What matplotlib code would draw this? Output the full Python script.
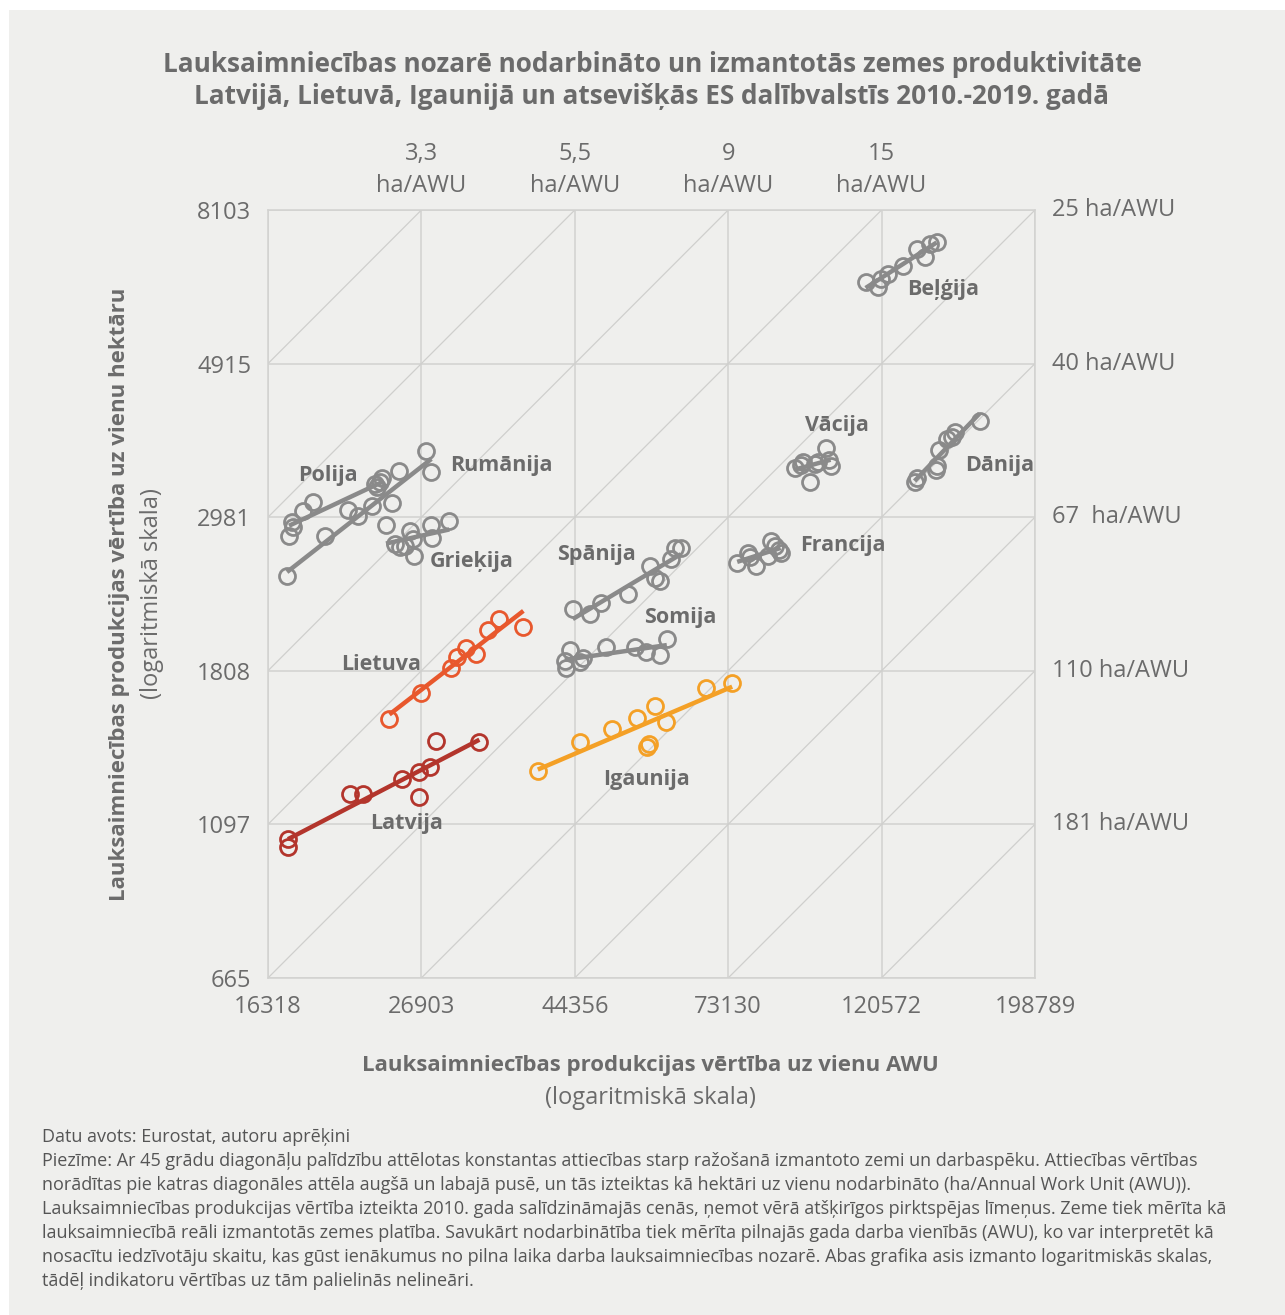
import numpy as np
import matplotlib
matplotlib.use("Agg")
import matplotlib.pyplot as plt
from matplotlib.patches import Rectangle

plt.rcParams['font.family'] = ['Open Sans', 'DejaVu Sans']

# --- asis un diagonāļu uzraksti ---
x_ticks = [16318, 26903, 44356, 73130, 120572, 198789]
y_ticks = [665, 1097, 1808, 2981, 4915, 8103]
top_labels = ["3,3", "5,5", "9", "15"]
right_labels = ["25 ha/AWU", "40 ha/AWU", "67  ha/AWU", "110 ha/AWU", "181 ha/AWU"]

# --- dati (produkcija uz AWU, produkcija uz ha), 2010-2019 ---
lv_x = [17416, 17416, 21318, 22240, 25255, 26728, 26728, 27705, 28251, 32502]
lv_y = [1045, 1018, 1210, 1210, 1270, 1299, 1198, 1321, 1437, 1433]

lt_x = [24240, 26903, 29666, 30253, 31154, 32187, 33470, 34689, 37511]
lt_y = [1546, 1683, 1826, 1892, 1949, 1911, 2066, 2141, 2086]

ee_x = [39318, 45085, 50043, 54293, 57570, 59672, 56453, 56084, 68069, 74090]
ee_y = [1304, 1433, 1495, 1549, 1611, 1529, 1423, 1410, 1711, 1739]

fi_x = [42934, 43639, 43078, 45085, 45523, 49072, 53937, 55906, 58519, 59873]
fi_y = [1868, 1936, 1826, 1862, 1886, 1955, 1955, 1923, 1905, 2007]

es_x = [44068, 46578, 48277, 52722, 56638, 57570, 58519, 60644, 61448, 62666]
es_y = [2212, 2177, 2256, 2323, 2545, 2447, 2423, 2603, 2698, 2698]

gr_x = [23971, 24686, 25537, 25122, 25955, 26211, 26298, 27794, 27885, 29472]
gr_y = [2904, 2730, 2713, 2704, 2848, 2775, 2626, 2904, 2784, 2942]

pl_x = [17474, 17646, 17704, 18289, 18896, 21179, 23129, 23279, 23661, 23511]
pl_y = [2802, 2933, 2886, 3040, 3130, 3049, 3319, 3287, 3385, 3341]

ro_x = [17361, 19650, 21879, 22902, 24446, 25006, 27345, 27794]
ro_y = [2460, 2802, 2991, 3090, 3120, 3463, 3696, 3451]

fr_x = [75309, 78059, 78565, 80113, 83317, 84130, 85233, 86353, 86740]
fr_y = [2570, 2655, 2621, 2545, 2629, 2760, 2716, 2681, 2655]

de_x = [90981, 92773, 93380, 95537, 97102, 98053, 100461, 101450, 102101]
de_y = [3496, 3531, 3566, 3341, 3543, 3566, 3732, 3589, 3519]

dk_x = [134257, 135137, 143770, 144254, 145193, 149026, 151475, 152958, 165941]
dk_y = [3341, 3385, 3474, 3519, 3708, 3843, 3868, 3931, 4074]

be_x = [114447, 119010, 120180, 122950, 129109, 135137, 138706, 140997, 144254]
be_y = [6410, 6306, 6473, 6579, 6752, 7137, 6953, 7255, 7302]

GREY = "#8a8a8a"
TXT = "#6b6b6b"
BG = "#efefed"
GRID = "#d2d2d0"

series = [
    ("Polija", pl_x, pl_y, GREY, (0.078, 0.654, "center")),
    ("Rumānija", ro_x, ro_y, GREY, (0.237, 0.667, "left")),
    ("Grieķija", gr_x, gr_y, GREY, (0.211, 0.542, "left")),
    ("Spānija", es_x, es_y, GREY, (0.428, 0.552, "center")),
    ("Somija", fi_x, fi_y, GREY, (0.538, 0.469, "center")),
    ("Francija", fr_x, fr_y, GREY, (0.694, 0.5625, "left")),
    ("Vācija", de_x, de_y, GREY, (0.742, 0.719, "center")),
    ("Dānija", dk_x, dk_y, GREY, (0.909, 0.667, "left")),
    ("Beļģija", be_x, be_y, GREY, (0.833, 0.896, "left")),
    ("Lietuva", lt_x, lt_y, "#e8582d", (0.147, 0.408, "center")),
    ("Latvija", lv_x, lv_y, "#b3352c", (0.181, 0.201, "center")),
    ("Igaunija", ee_x, ee_y, "#f4a026", (0.494, 0.259, "center")),
]

fig = plt.figure(figsize=(12.85, 13.15), dpi=100)
fig.patch.set_facecolor("white")
fig.add_artist(Rectangle((9 / 1285, 0), 1, 1 - 10 / 1315, transform=fig.transFigure,
                         facecolor=BG, edgecolor="none", zorder=-10))

ax = fig.add_axes([268 / 1285, 1 - 978 / 1315, 767 / 1285, 768 / 1315])
ax.set_facecolor(BG)
ax.set_xscale("log")
ax.set_yscale("log")
ax.set_xlim(x_ticks[0], x_ticks[-1])
ax.set_ylim(y_ticks[0], y_ticks[-1])

# režģis
for xv in x_ticks:
    ax.axvline(xv, color=GRID, lw=1.1, zorder=0)
for yv in y_ticks:
    ax.axhline(yv, color=GRID, lw=1.1, zorder=0)

# 45 grādu diagonāles (konstanta ha/AWU attiecība)
ratios = [xv / y_ticks[-1] for xv in x_ticks[1:]] + [x_ticks[-1] / yv for yv in y_ticks[-2:0:-1]]
xx = np.array([x_ticks[0], x_ticks[-1]], dtype=float)
for r in ratios:
    ax.plot(xx, xx / r, color="#cfcfcd", lw=0.9, zorder=0)

for sp in ax.spines.values():
    sp.set_color(GRID)
    sp.set_linewidth(1.1)

# punkti un trenda līnijas
for name, xs, ys, col, (tx, ty, ha) in series:
    xs = np.array(xs, dtype=float)
    ys = np.array(ys, dtype=float)
    ax.plot(xs, ys, "o", ms=11.5, mfc="none", mec=col, mew=2.0, zorder=3)
    k, b = np.polyfit(np.log(xs), np.log(ys), 1)
    xl = np.array([xs.min(), xs.max()])
    ax.plot(xl, np.exp(b) * xl ** k, color=col, lw=3.2, zorder=4, solid_capstyle="butt")
    ax.text(tx, ty, name, transform=ax.transAxes, ha=ha, va="center",
            fontsize=15.5, fontweight="bold", color=TXT, zorder=5)

ax.set_xticks(x_ticks)
ax.set_xticklabels([str(v) for v in x_ticks])
ax.set_yticks(y_ticks)
ax.set_yticklabels([str(v) for v in y_ticks])
ax.minorticks_off()
ax.tick_params(length=0, labelsize=17, labelcolor=TXT, pad=12)

# diagonāļu uzraksti augšā un pa labi
for xv, lab in zip(x_ticks[1:5], top_labels):
    ax.text(xv, 1.073, lab, transform=ax.get_xaxis_transform(), ha="center", va="center",
            fontsize=17, color=TXT)
    ax.text(xv, 1.031, "ha/AWU", transform=ax.get_xaxis_transform(), ha="center", va="center",
            fontsize=17, color=TXT)
for yv, lab in zip(y_ticks[::-1][:5], right_labels):
    ax.text(1.022, yv, lab, transform=ax.get_yaxis_transform(), ha="left", va="center",
            fontsize=17, color=TXT)

# virsraksts
fig.text(652 / 1285, 1 - 65 / 1315, "Lauksaimniecības nozarē nodarbināto un izmantotās zemes produktivitāte",
         ha="center", va="center", fontsize=18.8, fontweight="bold", color=TXT)
fig.text(652 / 1285, 1 - 97 / 1315, "Latvijā, Lietuvā, Igaunijā un atsevišķās ES dalībvalstīs 2010.-2019. gadā",
         ha="center", va="center", fontsize=18.8, fontweight="bold", color=TXT)

# asu nosaukumi
fig.text(120 / 1285, 1 - 594 / 1315, "Lauksaimniecības produkcijas vērtība uz vienu hektāru",
         rotation=90, ha="center", va="center", fontsize=16, fontweight="bold", color=TXT)
fig.text(152 / 1285, 1 - 594 / 1315, "(logaritmiskā skala)",
         rotation=90, ha="center", va="center", fontsize=17, color=TXT)
fig.text(650 / 1285, 1 - 1066 / 1315, "Lauksaimniecības produkcijas vērtība uz vienu AWU",
         ha="center", va="center", fontsize=16, fontweight="bold", color=TXT)
fig.text(650 / 1285, 1 - 1098 / 1315, "(logaritmiskā skala)",
         ha="center", va="center", fontsize=17, color=TXT)

# piezīmes
notes = [
    "Datu avots: Eurostat, autoru aprēķini",
    "Piezīme: Ar 45 grādu diagonāļu palīdzību attēlotas konstantas attiecības starp ražošanā izmantoto zemi un darbaspēku. Attiecības vērtības",
    "norādītas pie katras diagonāles attēla augšā un labajā pusē, un tās izteiktas kā hektāri uz vienu nodarbināto (ha/Annual Work Unit (AWU)).",
    "Lauksaimniecības produkcijas vērtība izteikta 2010. gada salīdzināmajās cenās, ņemot vērā atšķirīgos pirktspējas līmeņus. Zeme tiek mērīta kā",
    "lauksaimniecībā reāli izmantotās zemes platība. Savukārt nodarbinātība tiek mērīta pilnajās gada darba vienībās (AWU), ko var interpretēt kā",
    "nosacītu iedzīvotāju skaitu, kas gūst ienākumus no pilna laika darba lauksaimniecības nozarē. Abas grafika asis izmanto logaritmiskās skalas,",
    "tādēļ indikatoru vērtības uz tām palielinās nelineāri.",
]
for i, line in enumerate(notes):
    fig.text(42 / 1285, 1 - (1137 + i * 24) / 1315, line, ha="left", va="center",
             fontsize=13, color="#555555")

fig.savefig("out.png", dpi=100, facecolor="white")
